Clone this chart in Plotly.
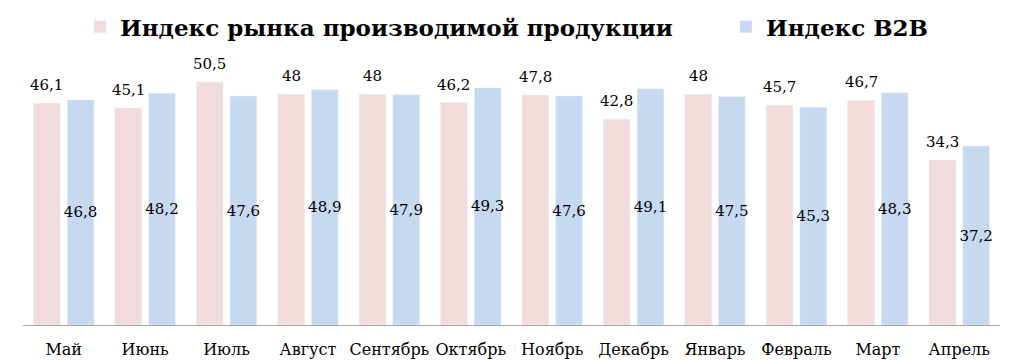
import plotly.graph_objects as go

months = ["Май", "Июнь", "Июль", "Август", "Сентябрь", "Октябрь", "Ноябрь",
          "Декабрь", "Январь", "Февраль", "Март", "Апрель"]
market_index = [46.1, 45.1, 50.5, 48, 48, 46.2, 47.8, 42.8, 48, 45.7, 46.7, 34.3]
b2b_index = [46.8, 48.2, 47.6, 48.9, 47.9, 49.3, 47.6, 49.1, 47.5, 45.3, 48.3, 37.2]

series_names = ["Индекс рынка производимой продукции", "Индекс B2B"]


def fmt(v):
    return f"{v:g}".replace(".", ",")


FONT = "DejaVu Serif"
BARGAP = 0.172
BARGROUPGAP = 0.208

fig = go.Figure()
fig.add_trace(go.Bar(
    x=months, y=market_index, name=series_names[0],
    marker_color="#f2dcdb", legend="legend",
))
fig.add_trace(go.Bar(
    x=months, y=b2b_index, name=series_names[1],
    marker_color="#c6d9f1", legend="legend2",
    text=[fmt(v) for v in b2b_index],
    textposition="inside", insidetextanchor="middle", textangle=0,
    constraintext="none",
    insidetextfont=dict(family=FONT, size=15, color="#000000"),
))

# labels above the first series, placed at the centre of its bar in each group
pink_offset = -(1 - BARGAP) / 4
for i, v in enumerate(market_index):
    fig.add_annotation(
        x=i + pink_offset, y=v, xref="x", yref="y",
        text=fmt(v), showarrow=False, yanchor="bottom", yshift=7,
        font=dict(family=FONT, size=15, color="#000000"),
    )

legend_font = dict(family=FONT, size=23, color="#000000", weight="bold")
fig.update_layout(
    width=1024, height=361,
    margin=dict(l=23, r=24, t=60, b=36, autoexpand=False),
    paper_bgcolor="white", plot_bgcolor="white",
    barmode="group", bargap=BARGAP, bargroupgap=BARGROUPGAP,
    font=dict(family=FONT, size=15, color="#000000"),
    legend=dict(
        orientation="h", xref="container", yref="container",
        x=80 / 1024, xanchor="left", y=0.985, yanchor="top",
        font=legend_font, itemwidth=30, bgcolor="rgba(0,0,0,0)",
    ),
    legend2=dict(
        orientation="h", xref="container", yref="container",
        x=726 / 1024, xanchor="left", y=0.985, yanchor="top",
        font=legend_font, itemwidth=30, bgcolor="rgba(0,0,0,0)",
    ),
    showlegend=True,
)
fig.update_xaxes(showline=True, linecolor="#a6a6a6", linewidth=1, automargin=False,
                 ticks="", ticklabelstandoff=10,
                 tickfont=dict(family=FONT, size=16, color="#000000"),
                 showgrid=False)
fig.update_yaxes(range=[0, 55.1], visible=False, showgrid=False, zeroline=False,
                 automargin=False)

fig.write_html("out.html", config={"displayModeBar": False},
               post_script="document.body.style.margin='0';")
